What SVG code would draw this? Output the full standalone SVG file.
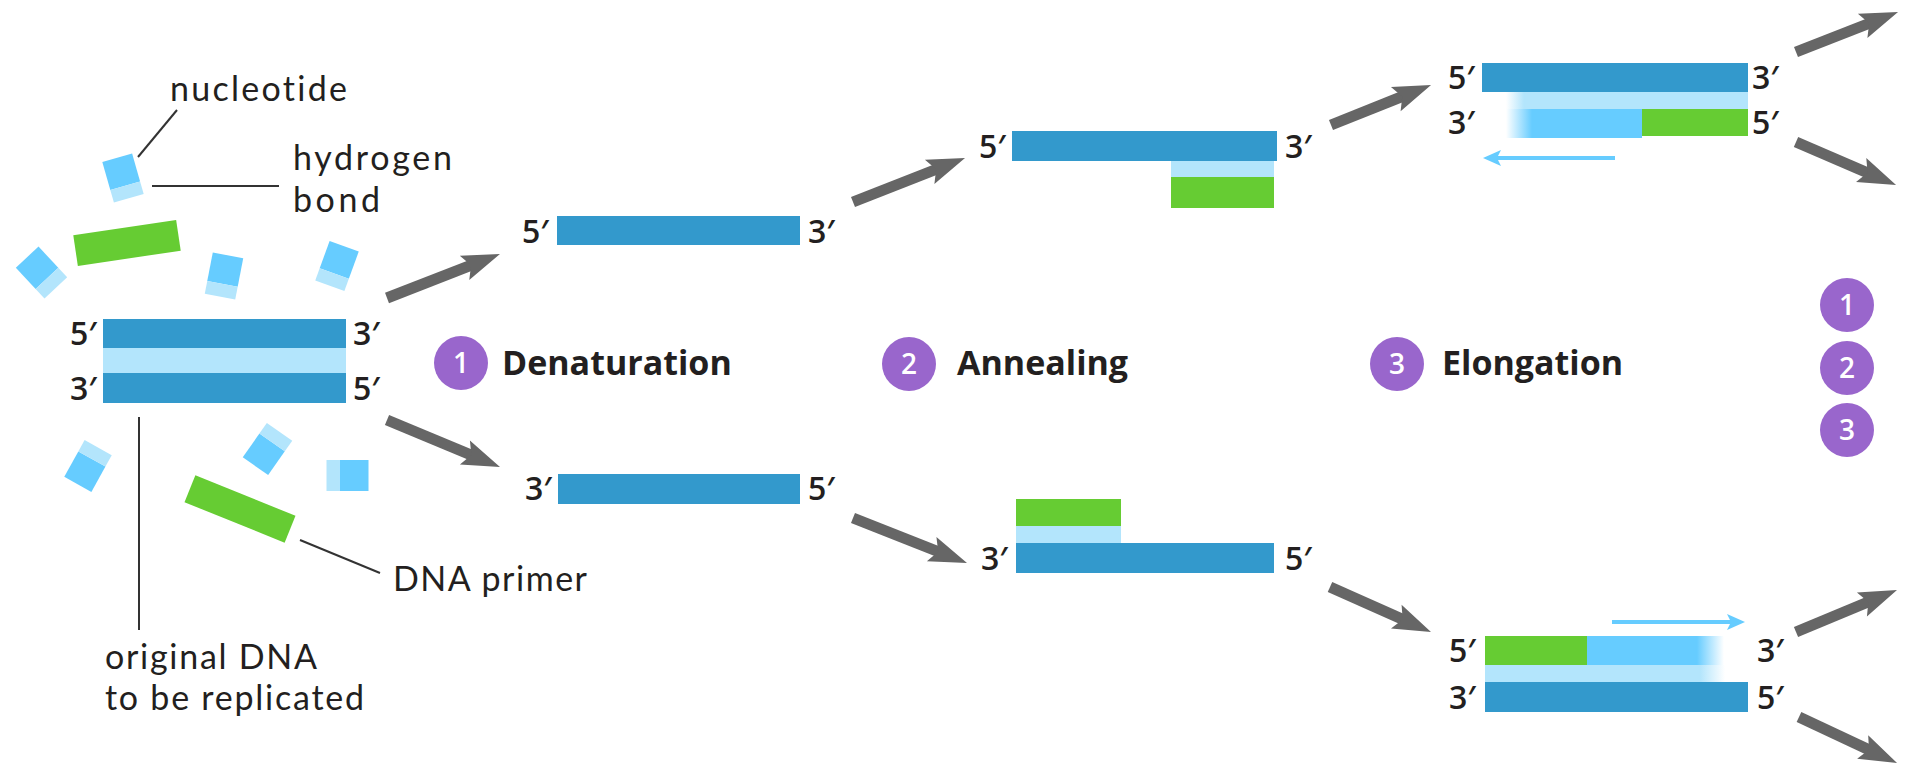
<svg xmlns="http://www.w3.org/2000/svg" xmlns:xlink="http://www.w3.org/1999/xlink" width="1911" height="768" viewBox="0 0 1911 768">
  <style>
    .dna { fill: #3399cc; }
    .hb { fill: #b3e5fc; }
    .nt { fill: #66ccff; }
    .pr { fill: #66cc33; }
    text { font-family: "Open Sans", "Liberation Sans", sans-serif; fill: #231f20; }
    .end { font-size: 32px; font-weight: 600; }
    .call { font-family: Lato, "Open Sans", "Liberation Sans", sans-serif; font-size: 34px; font-weight: 400; font-variant-ligatures: none; }
    .step { font-size: 34px; font-weight: 700; }
    .badge { fill: #9966cc; }
    .num { fill: #ffffff; font-size: 28px; font-weight: 600; text-anchor: middle; }
    .lead { stroke: #333333; stroke-width: 2; fill: none; }
    .flow { stroke: #666666; stroke-width: 11; fill: none; marker-end: url(#flowHead); }
    .ext { stroke: #66ccff; stroke-width: 4; fill: none; marker-end: url(#extHead); }
  </style>
  <defs>
    <!-- notched arrowhead for the cycle arrows -->
    <marker id="flowHead" markerUnits="userSpaceOnUse" viewBox="-2 -15 42 30" markerWidth="42" markerHeight="30" refX="8" refY="0" orient="auto">
      <path d="M38,0 L0,-13 L7,0 L0,13 Z" fill="#666666"/>
    </marker>
    <!-- small head for the direction-of-synthesis arrows -->
    <marker id="extHead" markerUnits="userSpaceOnUse" viewBox="-2 -10 22 20" markerWidth="22" markerHeight="20" refX="5" refY="0" orient="auto">
      <path d="M18,0 L0,-8 L4,0 L0,8 Z" fill="#66ccff"/>
    </marker>
    <!-- free nucleotide: base plus hydrogen-bond end -->
    <g id="nuc">
      <rect class="nt" x="-15.5" y="-21" width="31" height="29"/>
      <rect class="hb" x="-15.5" y="8" width="31" height="13"/>
    </g>
    <!-- growing ends of the new strands -->
    <linearGradient id="fadeTopHb" gradientUnits="userSpaceOnUse" x1="1506" y1="0" x2="1524" y2="0">
      <stop offset="0" stop-color="#b3e5fc" stop-opacity="0"/>
      <stop offset="1" stop-color="#b3e5fc" stop-opacity="1"/>
    </linearGradient>
    <linearGradient id="fadeTopNew" gradientUnits="userSpaceOnUse" x1="1506" y1="0" x2="1532" y2="0">
      <stop offset="0" stop-color="#66ccff" stop-opacity="0"/>
      <stop offset="1" stop-color="#66ccff" stop-opacity="1"/>
    </linearGradient>
    <linearGradient id="fadeBotHb" gradientUnits="userSpaceOnUse" x1="1700" y1="0" x2="1725" y2="0">
      <stop offset="0" stop-color="#b3e5fc" stop-opacity="1"/>
      <stop offset="1" stop-color="#b3e5fc" stop-opacity="0"/>
    </linearGradient>
    <linearGradient id="fadeBotNew" gradientUnits="userSpaceOnUse" x1="1697" y1="0" x2="1724" y2="0">
      <stop offset="0" stop-color="#66ccff" stop-opacity="1"/>
      <stop offset="1" stop-color="#66ccff" stop-opacity="0"/>
    </linearGradient>
  </defs>

  <!-- reaction mix: loose nucleotides and primers -->
  <g id="nucleotides">
    <use href="#nuc" transform="translate(123,178) rotate(-16)"/>
    <use href="#nuc" transform="translate(41.5,272.5) rotate(-43)"/>
    <use href="#nuc" transform="translate(224,276) rotate(11)"/>
    <use href="#nuc" transform="translate(337,266) rotate(20)"/>
    <use href="#nuc" transform="translate(88,466) rotate(209)"/>
    <use href="#nuc" transform="translate(267.5,449) rotate(215)"/>
    <use href="#nuc" transform="translate(347.5,475.5) rotate(90)"/>
  </g>
  <g id="primers">
    <rect class="pr" x="-52" y="-15.5" width="104" height="31" transform="translate(127,243) rotate(-8.5)"/>
    <rect class="pr" x="-54" y="-14.5" width="108" height="29" transform="translate(240,509) rotate(22)"/>
  </g>

  <!-- double-stranded template -->
  <g id="original-dna">
    <rect class="dna" x="103" y="319" width="243" height="29"/>
    <rect class="hb" x="103" y="348" width="243" height="25"/>
    <rect class="dna" x="103" y="373" width="243" height="30"/>
    <text class="end" x="70" y="345">5′</text>
    <text class="end" x="70" y="400">3′</text>
    <text class="end" x="353" y="345">3′</text>
    <text class="end" x="353" y="400">5′</text>
  </g>

  <!-- callouts -->
  <g id="callouts">
    <line class="lead" x1="138" y1="157" x2="177" y2="110"/>
    <line class="lead" x1="152" y1="186" x2="279" y2="186"/>
    <line class="lead" x1="139" y1="417" x2="139" y2="630"/>
    <line class="lead" x1="300" y1="540" x2="380" y2="573"/>
    <text class="call" x="170" y="101" textLength="177" lengthAdjust="spacing">nucleotide</text>
    <text class="call" x="293" y="170" textLength="159" lengthAdjust="spacing">hydrogen</text>
    <text class="call" x="293" y="212" textLength="87" lengthAdjust="spacing">bond</text>
    <text class="call" x="393" y="591" textLength="194" lengthAdjust="spacing">DNA primer</text>
    <text class="call" x="105" y="669" textLength="212" lengthAdjust="spacing">original DNA</text>
    <text class="call" x="105" y="710" textLength="259" lengthAdjust="spacing">to be replicated</text>
  </g>

  <!-- step 1: separated strands -->
  <g id="denat-top">
    <rect class="dna" x="557" y="216" width="243" height="29"/>
    <text class="end" x="522" y="243">5′</text>
    <text class="end" x="808" y="243">3′</text>
  </g>
  <g id="denat-bottom">
    <rect class="dna" x="558" y="474" width="242" height="30"/>
    <text class="end" x="525" y="500">3′</text>
    <text class="end" x="808" y="500">5′</text>
  </g>

  <!-- step 2: primers bound -->
  <g id="anneal-top">
    <rect class="dna" x="1012" y="131" width="265" height="30"/>
    <rect class="hb" x="1171" y="161" width="103" height="16"/>
    <rect class="pr" x="1171" y="177" width="103" height="31"/>
    <text class="end" x="979" y="158">5′</text>
    <text class="end" x="1285" y="158">3′</text>
  </g>
  <g id="anneal-bottom">
    <rect class="pr" x="1016" y="499" width="105" height="27"/>
    <rect class="hb" x="1016" y="526" width="105" height="17"/>
    <rect class="dna" x="1016" y="543" width="258" height="30"/>
    <text class="end" x="981" y="570">3′</text>
    <text class="end" x="1285" y="570">5′</text>
  </g>

  <!-- step 3: strands being extended -->
  <g id="elong-top">
    <rect class="dna" x="1482" y="63" width="266" height="29"/>
    <rect x="1505" y="92" width="243" height="17" fill="url(#fadeTopHb)"/>
    <rect x="1505" y="109" width="137" height="29" fill="url(#fadeTopNew)"/>
    <rect class="pr" x="1642" y="109" width="106" height="27"/>
    <text class="end" x="1448" y="89">5′</text>
    <text class="end" x="1752" y="89">3′</text>
    <text class="end" x="1448" y="134">3′</text>
    <text class="end" x="1752" y="134">5′</text>
  </g>
  <g id="elong-bottom">
    <rect class="pr" x="1485" y="636" width="102" height="29"/>
    <rect x="1587" y="636" width="138" height="29" fill="url(#fadeBotNew)"/>
    <rect x="1485" y="665" width="241" height="17" fill="url(#fadeBotHb)"/>
    <rect class="dna" x="1485" y="682" width="263" height="30"/>
    <text class="end" x="1449" y="662">5′</text>
    <text class="end" x="1757" y="662">3′</text>
    <text class="end" x="1449" y="709">3′</text>
    <text class="end" x="1757" y="709">5′</text>
  </g>

  <!-- step labels -->
  <g id="step-1">
    <circle class="badge" cx="461" cy="363" r="27"/>
    <text class="num" x="461" y="373">1</text>
    <text class="step" x="502" y="375">Denaturation</text>
  </g>
  <g id="step-2">
    <circle class="badge" cx="909" cy="364" r="27"/>
    <text class="num" x="909" y="374">2</text>
    <text class="step" x="957" y="375">Annealing</text>
  </g>
  <g id="step-3">
    <circle class="badge" cx="1397" cy="364" r="27"/>
    <text class="num" x="1397" y="374">3</text>
    <text class="step" x="1442" y="375">Elongation</text>
  </g>
  <g id="repeat-cycle">
    <circle class="badge" cx="1847" cy="305" r="27"/>
    <text class="num" x="1847" y="315">1</text>
    <circle class="badge" cx="1847" cy="368" r="27"/>
    <text class="num" x="1847" y="378">2</text>
    <circle class="badge" cx="1847" cy="430" r="27"/>
    <text class="num" x="1847" y="440">3</text>
  </g>

  <!-- connectors -->
  <g id="connectors">
    <line class="flow" x1="387" y1="298" x2="472" y2="264.9"/>
    <line class="flow" x1="387" y1="420" x2="472.3" y2="455.5"/>
    <line class="flow" x1="853" y1="202" x2="937.1" y2="169"/>
    <line class="flow" x1="853" y1="518" x2="939.1" y2="552"/>
    <line class="flow" x1="1331" y1="125" x2="1403.2" y2="96.1"/>
    <line class="flow" x1="1330" y1="587" x2="1403.6" y2="619.8"/>
    <line class="flow" x1="1796" y1="52" x2="1870.1" y2="23"/>
    <line class="flow" x1="1796" y1="142" x2="1868.5" y2="173.2"/>
    <line class="flow" x1="1796" y1="632" x2="1869.3" y2="601.5"/>
    <line class="flow" x1="1799" y1="717" x2="1869.9" y2="750.3"/>
    <line class="ext" x1="1615" y1="158" x2="1496" y2="158"/>
    <line class="ext" x1="1612" y1="622" x2="1732" y2="622"/>
  </g>
</svg>
